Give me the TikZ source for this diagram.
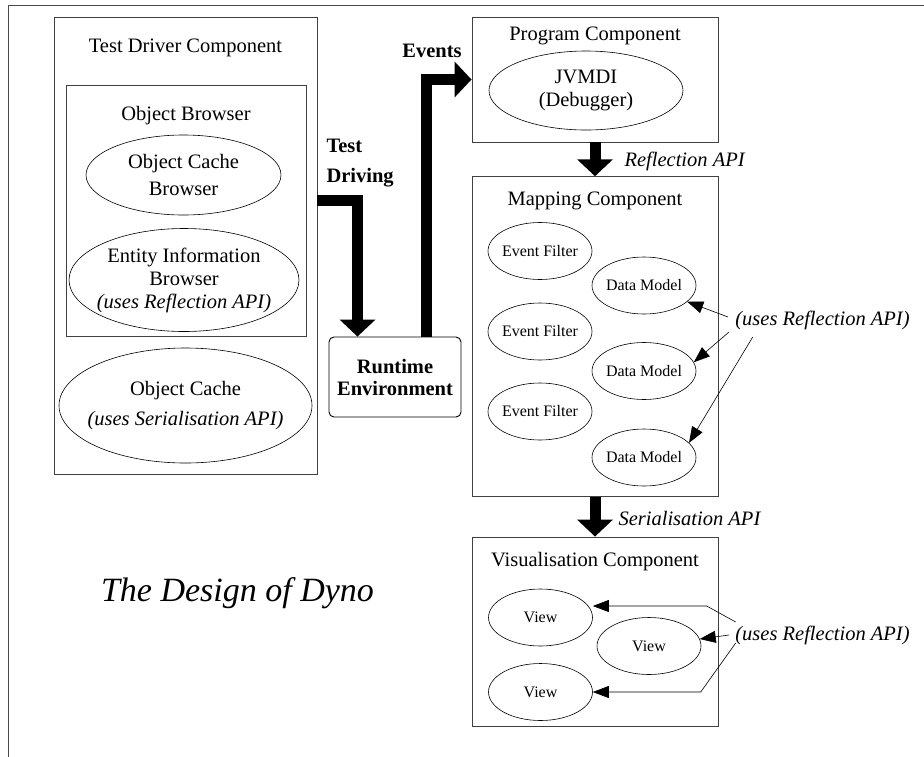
\documentclass[tikz,border=0pt]{standalone}
\usepackage{fontspec}
\setmainfont{Liberation Serif}
\usetikzlibrary{shapes.geometric,arrows.meta}
\newcommand\mainsz{\fontsize{20.5}{23}\selectfont}
\newcommand\smallsz{\fontsize{16}{18}\selectfont}
\begin{document}
\begin{tikzpicture}[x=1pt,y=-1pt,font=\mainsz,
    comp/.style={draw=black!75,line width=0.9pt,inner sep=0pt},
    blob/.style={draw,ellipse,inner sep=0pt,line width=0.6pt},
    minor/.style={blob,minimum width=104pt,minimum height=57pt},
    flow/.style={line width=11pt,-{Triangle[length=17pt,width=35pt]}},
    uses/.style={line width=0.6pt,-{Triangle[length=16pt,width=12pt]}}]
    \useasboundingbox (0,0) rectangle (924,756);
    \clip (0,0) rectangle (924,756);
    \draw [black!70,line width=1pt] (8,5) rectangle (940,770);
    \node [comp,minimum width=263pt,minimum height=457pt] (tdc) at (185.5,245.5) {};
    \node [anchor=base] (tdct) at (185.5,52) {Test Driver Component};
    \node [comp,minimum width=240pt,minimum height=251pt] (ob) at (186,211) {};
    \node [anchor=base] (obt) at (186,120) {Object Browser};
    \node [blob,minimum width=195pt,minimum height=80pt,label={[align=center]center:Object Cache\\[4pt]Browser}] (ocb) at (183.5,175) {};
    \node [blob,minimum width=230pt,minimum height=103pt,label={[align=center]center:Entity Information\\Browser\\\textit{(uses Reflection API)}}] (eib) at (184,280) {};
    \node [blob,minimum width=253pt,minimum height=115pt,label={[align=center]center:Object Cache\\[7pt]\textit{(uses Serialisation API)}}] (oc) at (185.5,405.5) {};
    \node [comp,draw=black,rounded corners=5pt,minimum width=132pt,minimum height=80pt,align=center,font=\fontsize{20.5}{22}\selectfont\bfseries] (rt) at (395,377) {Runtime\\Environment};
    \node [comp,minimum width=246pt,minimum height=125pt] (pc) at (595,79.5) {};
    \node [anchor=base] (pct) at (595,40) {Program Component};
    \node [blob,minimum width=194pt,minimum height=79pt,label={[align=center]center:JVMDI\\(Debugger)}] (jv) at (586,90.5) {};
    \node [comp,minimum width=246pt,minimum height=320pt] (mc) at (595,336.7) {};
    \node [anchor=base] (mct) at (595,205.5) {Mapping Component};
    \foreach \y [count=\i] in {251,331.5,411.5}
        \node [minor,label={[font=\smallsz]center:Event Filter}] (ef\i) at (540,\y) {};
    \foreach \y [count=\i] in {285.5,371,457.5}
        \node [minor,label={[font=\smallsz]center:Data Model}] (dm\i) at (644,\y) {};
    \node [comp,minimum width=246pt,minimum height=189pt] (vc) at (595,631.5) {};
    \node [anchor=base] (vct) at (595,566) {Visualisation Component};
    \node [minor,label={[font=\smallsz]center:View}] (v1) at (540.5,617.5) {};
    \node [minor,label={[font=\smallsz]center:View}] (v2) at (649,646) {};
    \node [minor,label={[font=\smallsz]center:View}] (v3) at (540.5,692) {};
    \draw [flow] (tdc.east |- 0,200) -| ([xshift=-37.5pt]rt.north);
    \node [anchor=west,align=left,font=\fontsize{20.5}{30}\selectfont\bfseries] (tdl) at (323,163.5) {Test\\Driving};
    \draw [flow] ([xshift=31pt]rt.north) |- (pc.west);
    \node [anchor=base,font=\mainsz\bfseries] (evl) at (432,57.5) {Events};
    \draw [flow] (pc.south) -- (mc.north);
    \node [anchor=base west,font=\mainsz\itshape] (rfl) at (621,166) {Reflection API};
    \draw [flow] (mc.south) -- (vc.north);
    \node [anchor=base west,font=\mainsz\itshape] (srl) at (615,525.5) {Serialisation API};
    \node [anchor=base,font=\mainsz\itshape] (ur1) at (822.5,325) {(uses Reflection API)};
    \coordinate (u1) at (728,317);
    \coordinate (u2) at (729,332);
    \coordinate (u3) at (752.7,337);
    \draw [uses] (u1) -- (dm1);
    \draw [uses] (u2) -- (dm2.10);
    \draw [uses] (u3) -- (dm3.18);
    \node [anchor=base,font=\mainsz\itshape] (ur2) at (822.5,640) {(uses Reflection API)};
    \coordinate (w1) at (735.7,622);
    \coordinate (w1b) at (706.7,606);
    \coordinate (w2) at (729,635);
    \coordinate (w3) at (735.7,643);
    \coordinate (w3b) at (700.7,692);
    \draw [uses] (w1) -- (w1b) -- (v1.east |- w1b);
    \draw [uses] (w2) -- (v2);
    \draw [uses] (w3) -- (w3b) -- (v3.east);
    \node [anchor=base,font=\fontsize{34}{40}\selectfont\itshape] (ttl) at (237.5,601) {The Design of Dyno};
\end{tikzpicture}
\end{document}
